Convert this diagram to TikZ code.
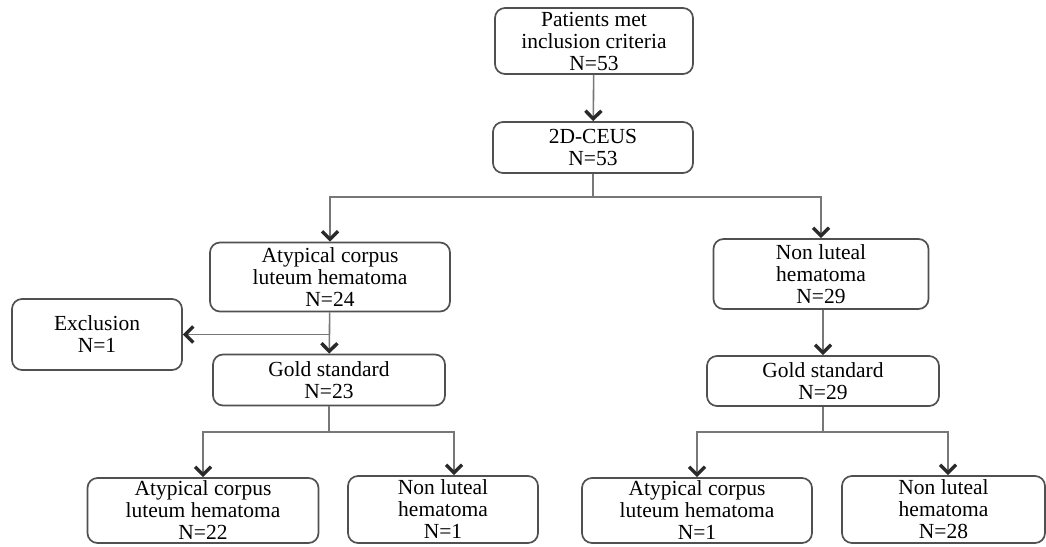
\documentclass[tikz,border=0pt]{standalone}
\usepackage{fontspec}
\setmainfont{Liberation Serif}
\usetikzlibrary{arrows.meta}
\definecolor{boxgray}{HTML}{505050}
\definecolor{linegray}{HTML}{777777}
\definecolor{tipgray}{HTML}{2A2A2A}
\tikzset{box/.style={draw=boxgray,line width=1.7pt,rounded corners=10pt,
                     align=center,inner sep=0pt,text depth=-6pt,
                     font=\fontsize{21.5}{22}\selectfont},
         link/.style={draw=linegray,line width=1.6pt},
         arr/.style={link,-{Straight Barb[length=8pt,width=16pt,line width=3.4pt,color=tipgray]}},
         }

\begin{document}
\begin{tikzpicture}[x=1pt,y=-1pt]
\clip (0,0) rectangle (1046,546);
\node[box,minimum width=198pt,minimum height=66pt] (patients) at (594,41)
    {Patients met\\inclusion criteria\\N=53};
\node[box,minimum width=200pt,minimum height=51pt] (ceus) at (593,147.5)
    {2D-CEUS\\N=53};
\node[box,minimum width=240pt,minimum height=69pt] (atyp) at (330,277)
    {Atypical corpus\\luteum hematoma\\N=24};
\node[box,minimum width=215pt,minimum height=70pt] (nonlut) at (821,274)
    {Non luteal\\hematoma\\N=29};
\node[box,minimum width=170pt,minimum height=71pt] (excl) at (97,334.5)
    {Exclusion\\N=1};
\node[box,minimum width=232pt,minimum height=51pt] (goldL) at (329,380)
    {Gold standard\\N=23};
\node[box,minimum width=232pt,minimum height=50pt] (goldR) at (823,381)
    {Gold standard\\N=29};
\node[box,minimum width=231pt,minimum height=65pt] (atypL) at (203,510.5)
    {Atypical corpus\\luteum hematoma\\N=22};
\node[box,minimum width=190pt,minimum height=67pt] (nonlutL) at (443,509.5)
    {Non luteal\\hematoma\\N=1};
\node[box,minimum width=230pt,minimum height=65pt] (atypR) at (697,510.5)
    {Atypical corpus\\luteum hematoma\\N=1};
\node[box,minimum width=203pt,minimum height=67pt] (nonlutR) at (943.5,509.5)
    {Non luteal\\hematoma\\N=28};

% splits
\coordinate (split) at (593,197);
\coordinate (splitL) at (329,432);
\coordinate (splitR) at (823,432);

\draw[arr] (patients) -- (ceus);
\draw[link] (ceus) -- (split);
\draw[arr] (split) -| (atyp);
\draw[arr] (split) -| (nonlut);

\draw[arr] (atyp) -- (goldL);
\draw[arr] (atyp.south |- excl) -- (excl);
\draw[arr] (nonlut.south -| goldR) -- (goldR);

\draw[link] (goldL) -- (splitL);
\draw[arr] (splitL) -| (atypL);
\draw[arr] (splitL) -| ([xshift=11pt]nonlutL.north);
\draw[link] (goldR) -- (splitR);
\draw[arr] (splitR) -| (atypR);
\draw[arr] (splitR) -| ([xshift=4.5pt]nonlutR.north);
\end{tikzpicture}
\end{document}
